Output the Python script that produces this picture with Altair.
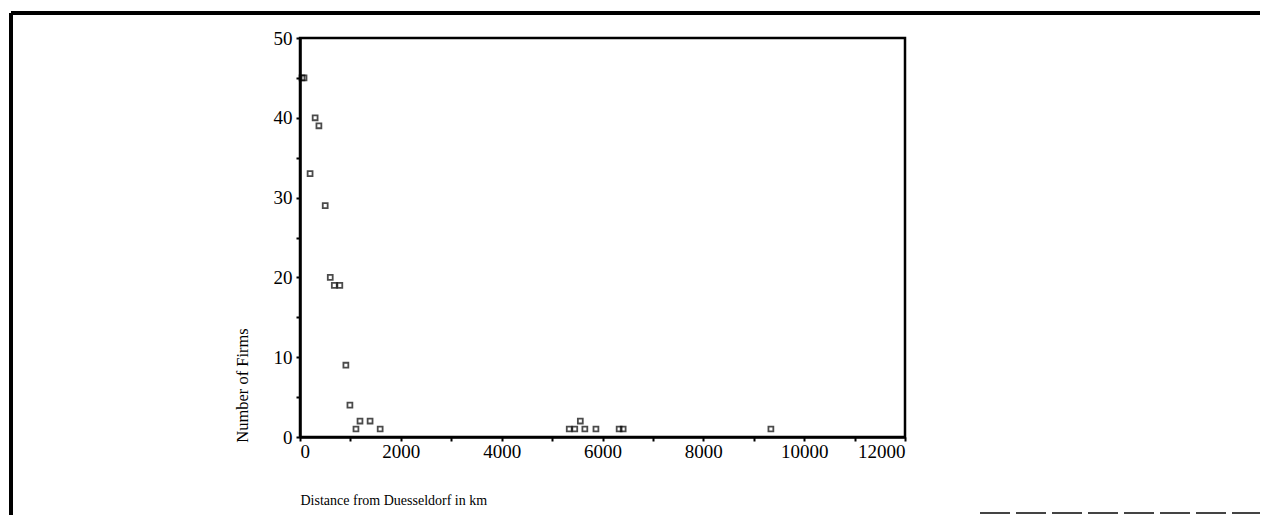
import altair as alt
import pandas as pd

distance_km = [40, 80, 200, 300, 375, 500, 600, 680, 790, 910, 990, 1110, 1190, 1390, 1590,
               5340, 5450, 5560, 5650, 5870, 6330, 6410, 9340]
num_firms = [45, 45, 33, 40, 39, 29, 20, 19, 19, 9, 4, 1, 2, 2, 1,
             1, 1, 2, 1, 1, 1, 1, 1]

x_ticks = list(range(0, 12001, 1000))
y_ticks = list(range(0, 51, 5))

df = pd.DataFrame({"dist": distance_km, "firms": num_firms})

FONT = "Liberation Serif"

points = alt.Chart(df).mark_point(shape="square", filled=False, color="black",
                                   size=24, strokeWidth=1.8, clip=False).encode(
    x=alt.X("dist:Q",
            scale=alt.Scale(domain=[0, 12000], nice=False, zero=True),
            axis=alt.Axis(values=x_ticks, grid=False,
                          labelExpr="datum.value % 2000 == 0 ? datum.label : ''",
                          format="d",
                          title="Distance from Duesseldorf in km",
                          titleAnchor="start", titleAlign="left", titleX=0, titleY=56,
                          titleFont=FONT, titleFontSize=14, titleFontWeight="normal",
                          labelFont=FONT, labelFontSize=19, labelPadding=1,
                          tickSize=4, tickWidth=2, tickColor="black",
                          domainColor="black", domainWidth=2.5, labelColor="black",
                          titleColor="black")),
    y=alt.Y("firms:Q",
            scale=alt.Scale(domain=[0, 50], nice=False),
            axis=alt.Axis(values=y_ticks, grid=False,
                          labelExpr="datum.value % 10 == 0 ? datum.label : ''",
                          title="Number of Firms",
                          titleAngle=270, titleX=-50, titleY=347,
                          titleAlign="center", titleBaseline="bottom",
                          titleFont=FONT, titleFontSize=16.5, titleFontWeight="normal",
                          labelFont=FONT, labelFontSize=19, labelPadding=4,
                          tickSize=4, tickWidth=2, tickColor="black",
                          domainColor="black", domainWidth=2.5, labelColor="black",
                          titleColor="black")),
)

frame_left = alt.Chart(df).mark_rule(color="black", strokeWidth=2.5, clip=False).encode(
    x=alt.value(-289), y=alt.value(-25), y2=alt.value(480))
frame_top = alt.Chart(df).mark_rule(color="black", strokeWidth=3, clip=False).encode(
    x=alt.value(-289), x2=alt.value(960), y=alt.value(-25))
frame_bottom = alt.Chart(df).mark_rule(color="#444444", strokeWidth=2, clip=False,
                                        strokeDash=[30, 6]).encode(
    x=alt.value(680), x2=alt.value(960), y=alt.value(475))

chart = alt.layer(frame_left, frame_top, frame_bottom, points).properties(
    width=605, height=399,
    padding={"left": 300, "top": 38, "right": 356, "bottom": 78},
    autosize=alt.AutoSizeParams(type="none"),
    background="white",
).configure_view(stroke="black", strokeWidth=2.5)

chart.save("out.html", embed_options={"renderer": "svg", "actions": False})
